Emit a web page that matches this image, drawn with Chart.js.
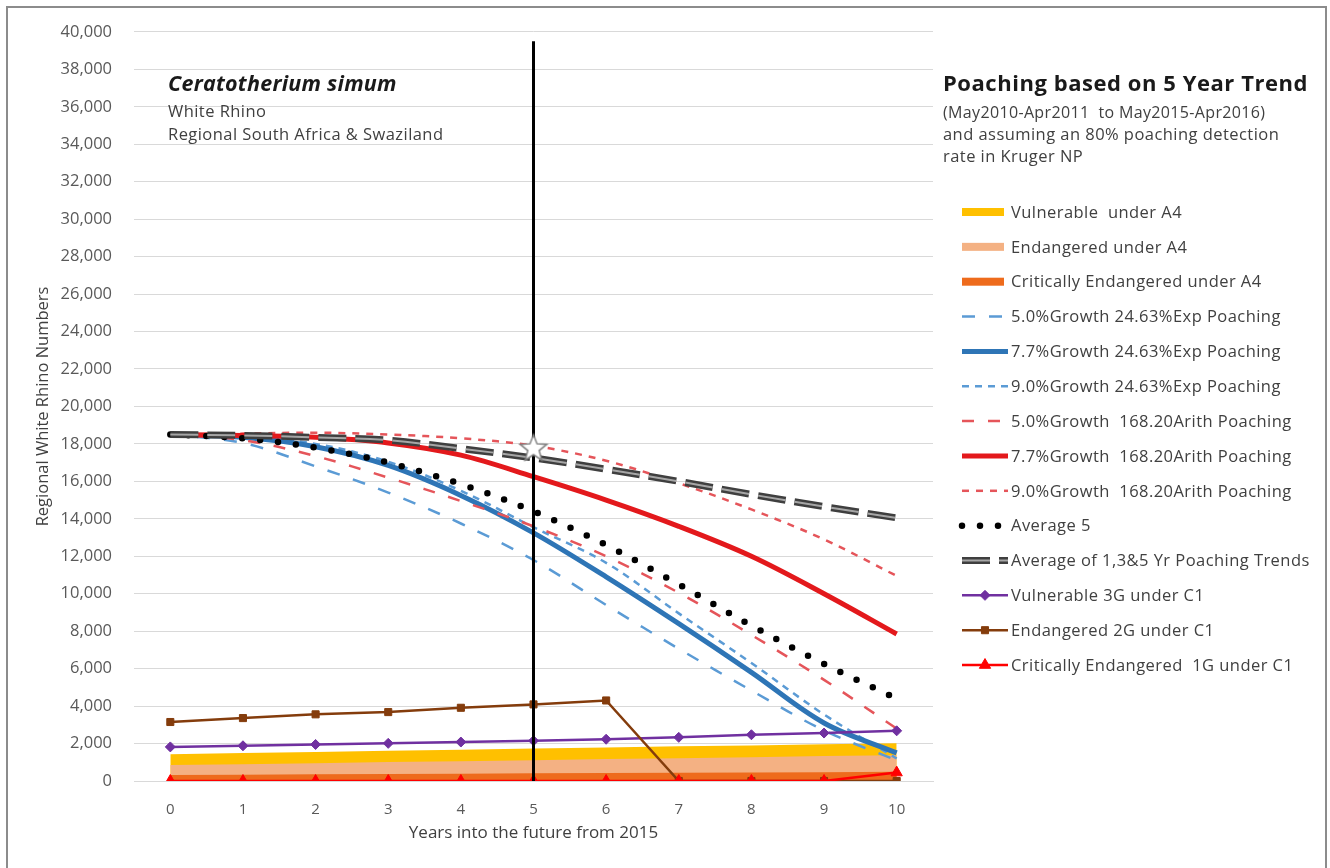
<!DOCTYPE html>
<html>
<head>
<meta charset="utf-8">
<script src="https://cdn.jsdelivr.net/npm/chart.js@4.4.1/dist/chart.umd.min.js"></script>
<style>
html, body { margin: 0; padding: 0; background: #fff; }
#wrap { position: relative; width: 1330px; height: 868px; overflow: hidden; }
#frame { position: absolute; left: 6px; top: 6px; width: 1321px; height: 900px; border: 2px solid #8c8c8c; box-sizing: border-box; }
canvas { position: absolute; left: 0; top: 0; }
</style>
</head>
<body>
<div id="wrap"><div id="frame"></div><canvas id="chart" width="1330" height="868"></canvas></div>
<script>
// years into the future from 2015
const years = ['0', '1', '2', '3', '4', '5', '6', '7', '8', '9', '10'];

// A4 threshold bands (filled areas)
const vulnA4 = [1430, 1490, 1550, 1610, 1670, 1730, 1790, 1850, 1900, 1960, 2020];
const endA4 = [850, 900, 950, 1010, 1060, 1110, 1170, 1220, 1270, 1330, 1380];
const critA4 = [320, 340, 360, 370, 390, 410, 430, 440, 460, 470, 490];

// projections
const exp50 = [18500, 18050, 16800, 15400, 13750, 11800, 9400, 7060, 4830, 2700, 1100];
const exp77 = [18500, 18350, 17850, 16850, 15250, 13250, 10900, 8400, 5800, 3100, 1500];
const exp90 = [18500, 18400, 18000, 17050, 15500, 13550, 11650, 8950, 6300, 3550, 1200];
const ari50 = [18500, 18200, 17350, 16200, 14950, 13600, 12000, 10050, 7800, 5400, 2800];
const ari77 = [18500, 18450, 18350, 18050, 17400, 16250, 15000, 13600, 12000, 10000, 7850];
const ari90 = [18500, 18550, 18600, 18500, 18300, 17900, 17100, 15900, 14500, 12900, 10950];
const avg5 = [18500, 18300, 17800, 17000, 15850, 14400, 12600, 10500, 8300, 6250, 4400];
const avgTrend = [18500, 18450, 18350, 18200, 17750, 17250, 16650, 16000, 15300, 14650, 14050];

// C1 thresholds
const vuC1 = [1820, 1880, 1950, 2010, 2080, 2150, 2230, 2330, 2470, 2560, 2680];
const enC1 = [3150, 3360, 3560, 3680, 3910, 4090, 4300, 0, 0, 0, 0];
const crC1 = [0, 0, 0, 0, 0, 0, 0, 0, 0, 0, 450];

// marker at year 5
const markYear = '5';
const markTop = 39500;
const starValue = [null, null, null, null, null, 17800, null, null, null, null, null];

const yTicks = { min: 0, max: 40000, step: 2000 };

const legendOrder = [
  'Vulnerable  under A4',
  'Endangered under A4',
  'Critically Endangered under A4',
  '5.0%Growth 24.63%Exp Poaching',
  '7.7%Growth 24.63%Exp Poaching',
  '9.0%Growth 24.63%Exp Poaching',
  '5.0%Growth  168.20Arith Poaching',
  '7.7%Growth  168.20Arith Poaching',
  '9.0%Growth  168.20Arith Poaching',
  'Average 5',
  'Average of 1,3&5 Yr Poaching Trends',
  'Vulnerable 3G under C1',
  'Endangered 2G under C1',
  'Critically Endangered  1G under C1'
];

const FONT = '"Open Sans", Lato, sans-serif';
Chart.defaults.font.family = FONT;

// white star used as the point image
const star = document.createElement('canvas');
star.width = 32; star.height = 32;
(function () {
  const c = star.getContext('2d');
  c.beginPath();
  for (let i = 0; i < 10; i++) {
    const r = i % 2 ? 6 : 14;
    const a = -Math.PI / 2 + i * Math.PI / 5;
    c.lineTo(16 + r * Math.cos(a), 17 + r * Math.sin(a));
  }
  c.closePath();
  c.fillStyle = '#fff';
  c.fill();
  c.strokeStyle = '#7f7f7f';
  c.lineWidth = 1.5;
  c.stroke();
})();

function area(label, data, color, order) {
  return { label, data, fill: 'origin', backgroundColor: color, borderColor: color, borderWidth: 0, pointRadius: 0, order };
}
function proj(label, data, color, width, dash, order) {
  return { label, data, borderColor: color, borderWidth: width, borderDash: dash, pointRadius: 0, tension: 0.35, fill: false, order };
}
function marked(label, data, color, style, size, order) {
  return { label, data, borderColor: color, borderWidth: 2.5, pointStyle: style, pointRadius: size, pointBackgroundColor: color, pointBorderColor: color, pointBorderWidth: 1, tension: 0, fill: false, order };
}

const datasets = [
  { label: 'star', data: starValue, showLine: false, pointStyle: star, pointRadius: 14, order: 0 },
  { label: 'marker', data: [{ x: markYear, y: 0 }, { x: markYear, y: markTop }], borderColor: '#000', borderWidth: 3, pointRadius: 0, order: 1 },
  marked('Critically Endangered  1G under C1', crC1, '#ff0000', 'triangle', 6.5, 2),
  marked('Endangered 2G under C1', enC1, '#843c0c', 'rect', 5, 3),
  marked('Vulnerable 3G under C1', vuC1, '#7030a0', 'rectRot', 5, 3),
  { label: 'core', data: avgTrend, borderColor: '#a6a6a6', borderWidth: 2, borderDash: [28, 9], pointRadius: 0, tension: 0.35, order: 3.9 },
  Object.assign(proj('Average of 1,3&5 Yr Poaching Trends', avgTrend, '#3f3f3f', 7, [28, 9], 4), { coreColor: '#a6a6a6' }),
  Object.assign(proj('Average 5', avg5, '#000', 6.5, [0, 18], 4.5), { borderCapStyle: 'round' }),
  proj('7.7%Growth  168.20Arith Poaching', ari77, '#e3191c', 5, [], 5),
  proj('5.0%Growth  168.20Arith Poaching', ari50, '#e5555a', 2.5, [12, 14], 5),
  proj('9.0%Growth  168.20Arith Poaching', ari90, '#e5555a', 2.5, [7, 7], 5),
  proj('7.7%Growth 24.63%Exp Poaching', exp77, '#2e75b6', 5, [], 5),
  proj('5.0%Growth 24.63%Exp Poaching', exp50, '#5b9bd5', 2.5, [13, 14], 5),
  proj('9.0%Growth 24.63%Exp Poaching', exp90, '#5b9bd5', 2.5, [7, 6], 5),
  area('Critically Endangered under A4', critA4, '#ee6b1c', 10),
  area('Endangered under A4', endA4, '#f4b183', 11),
  area('Vulnerable  under A4', vulnA4, '#ffc000', 12)
];

function drawSample(ctx, ds, x0, x1, y) {
  if (ds.fill === 'origin') {
    ctx.fillStyle = ds.backgroundColor;
    ctx.fillRect(x0, y - 4, x1 - x0 - 4, 8);
    return;
  }
  ctx.save();
  ctx.strokeStyle = ds.borderColor;
  ctx.lineWidth = ds.borderWidth;
  ctx.lineCap = ds.borderCapStyle || 'butt';
  ctx.setLineDash(ds.borderDash || []);
  ctx.beginPath();
  ctx.moveTo(x0, y);
  ctx.lineTo(x1, y);
  ctx.stroke();
  if (ds.coreColor) {
    ctx.strokeStyle = ds.coreColor;
    ctx.lineWidth = 2;
    ctx.stroke();
  }
  ctx.restore();
  if (ds.pointRadius > 0) {
    ctx.save();
    ctx.fillStyle = ds.pointBackgroundColor;
    ctx.strokeStyle = ds.pointBorderColor;
    ctx.lineWidth = 1;
    Chart.helpers.drawPoint(ctx, { pointStyle: ds.pointStyle, radius: ds.pointRadius, rotation: 0, borderWidth: 1 }, (x0 + x1) / 2, y);
    ctx.restore();
  }
}

function text(ctx, str, x, y, font, color, spacing) {
  ctx.font = font;
  ctx.fillStyle = color;
  ctx.letterSpacing = spacing + 'px';
  ctx.fillText(str, x, y);
  ctx.letterSpacing = '0px';
}

const notes = {
  id: 'notes',
  afterDraw(chart) {
    const ctx = chart.ctx;
    ctx.save();
    ctx.textBaseline = 'middle';
    ctx.textAlign = 'left';

    text(ctx, 'Ceratotherium simum', 168, 85, 'italic bold 21.5px ' + FONT, '#1a1a1a', 0.25);
    text(ctx, 'White Rhino', 168, 112, '16.5px ' + FONT, '#404040', 0.45);
    text(ctx, 'Regional South Africa & Swaziland', 168, 135, '16.5px ' + FONT, '#404040', 0.45);

    text(ctx, 'Poaching based on 5 Year Trend', 943, 85, 'bold 22px ' + FONT, '#1a1a1a', 0.55);
    text(ctx, '(May2010-Apr2011  to May2015-Apr2016)', 943, 113, '16px ' + FONT, '#404040', 0.35);
    text(ctx, 'and assuming an 80% poaching detection', 943, 135, '16.5px ' + FONT, '#404040', 0.45);
    text(ctx, 'rate in Kruger NP', 943, 157, '16.5px ' + FONT, '#404040', 0.45);

    legendOrder.forEach((label, i) => {
      const y = 212 + i * 34.85;
      const ds = chart.data.datasets.find(d => d.label === label);
      drawSample(ctx, ds, 962, 1008, y);
      text(ctx, label, 1011, y + 1, '16.5px ' + FONT, '#404040', 0.45);
    });
    ctx.restore();
  }
};

new Chart(document.getElementById('chart'), {
  type: 'line',
  data: { labels: years, datasets },
  plugins: [notes],
  options: {
    responsive: false,
    animation: false,
    events: [],
    layout: { padding: { left: 28, top: 28, right: 397, bottom: 0 } },
    plugins: { legend: { display: false }, tooltip: { enabled: false } },
    scales: {
      x: {
        type: 'category',
        offset: true,
        grid: { display: false },
        border: { display: true, color: '#d9d9d9' },
        ticks: { color: '#595959', font: { size: 15 }, padding: 12 },
        title: { display: true, text: 'Years into the future from 2015', color: '#404040', font: { size: 17 }, padding: { top: 4, bottom: 25 } },
        afterFit: s => { s.height = 87; }
      },
      y: {
        min: yTicks.min,
        max: yTicks.max,
        grid: { color: '#d9d9d9', drawTicks: false },
        border: { display: false },
        ticks: { stepSize: yTicks.step, color: '#595959', font: { size: 16.5 }, padding: 22, callback: v => v.toLocaleString('en-US') },
        title: { display: true, text: 'Regional White Rhino Numbers', color: '#404040', font: { size: 16.5 }, padding: { top: 5 } },
        afterFit: s => { s.width = 106; }
      }
    }
  }
});
</script>
</body>
</html>
